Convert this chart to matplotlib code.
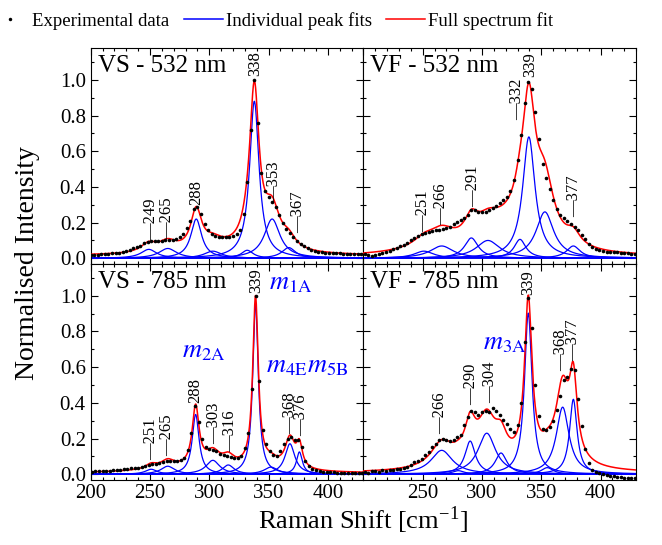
"""
Raman spectra of VS / VF at 532 and 785 nm with Lorentzian peak fits.
Writes out.png
"""
import matplotlib
matplotlib.use("Agg")
import matplotlib.pyplot as plt
import numpy as np
from matplotlib.lines import Line2D
from matplotlib.ticker import MultipleLocator

plt.rcParams["font.family"] = ["Liberation Serif", "DejaVu Serif"]
plt.rcParams["mathtext.fontset"] = "stix"

# ---------------- experimental spectra (sampled every 3 cm-1) ----------------
vs532_shift = np.arange(200, 429, 3)
vs532_int = [
    0.019, 0.020, 0.021, 0.022, 0.023, 0.025, 0.027, 0.029, 0.032, 0.036,
    0.041, 0.047, 0.055, 0.062, 0.071, 0.084, 0.092, 0.097, 0.095, 0.096,
    0.099, 0.101, 0.103, 0.105, 0.108, 0.117, 0.135, 0.168, 0.210, 0.275,
    0.288, 0.250, 0.192, 0.157, 0.138, 0.127, 0.122, 0.120, 0.120, 0.121,
    0.125, 0.135, 0.158, 0.250, 0.430, 0.720, 1.000, 0.760, 0.480, 0.375,
    0.345, 0.315, 0.285, 0.240, 0.197, 0.165, 0.142, 0.118, 0.099, 0.082,
    0.068, 0.055, 0.047, 0.042, 0.037, 0.034, 0.031, 0.030, 0.029, 0.028,
    0.027, 0.026, 0.025, 0.024, 0.023, 0.023, 0.022,
]

vs785_shift = np.arange(201, 430, 3)
vs785_int = [
    0.015, 0.016, 0.017, 0.018, 0.019, 0.020, 0.021, 0.023, 0.025, 0.027,
    0.030, 0.033, 0.035, 0.037, 0.042, 0.046, 0.050, 0.055, 0.060, 0.065,
    0.071, 0.077, 0.077, 0.074, 0.076, 0.079, 0.092, 0.135, 0.230, 0.385,
    0.290, 0.200, 0.155, 0.140, 0.134, 0.128, 0.115, 0.108, 0.102, 0.097,
    0.093, 0.092, 0.105, 0.145, 0.230, 0.480, 1.000, 0.520, 0.250, 0.170,
    0.128, 0.108, 0.102, 0.128, 0.172, 0.200, 0.208, 0.192, 0.190, 0.150,
    0.074, 0.047, 0.032, 0.022, 0.017, 0.014, 0.012, 0.011, 0.010, 0.009,
    0.008, 0.008, 0.008, 0.007, 0.007, 0.007, 0.007,
]

vf532_shift = np.arange(201, 430, 3)
vf532_int = [
    0.026, 0.016, 0.014, 0.019, 0.024, 0.030, 0.035, 0.042, 0.050, 0.059,
    0.068, 0.077, 0.088, 0.100, 0.112, 0.124, 0.136, 0.143, 0.147, 0.152,
    0.156, 0.160, 0.164, 0.168, 0.178, 0.190, 0.201, 0.212, 0.223, 0.242,
    0.270, 0.270, 0.260, 0.260, 0.262, 0.270, 0.279, 0.292, 0.307, 0.326,
    0.345, 0.378, 0.438, 0.550, 0.690, 0.870, 0.990, 0.950, 0.820, 0.670,
    0.530, 0.450, 0.390, 0.326, 0.275, 0.245, 0.225, 0.207, 0.193, 0.178,
    0.158, 0.132, 0.108, 0.080, 0.064, 0.053, 0.044, 0.040, 0.037, 0.037,
    0.036, 0.034, 0.031, 0.028, 0.027, 0.025, 0.024,
]

vf785_shift = np.arange(201, 430, 3)
vf785_int = [
    0.010, 0.009, 0.016, 0.018, 0.014, 0.021, 0.019, 0.024, 0.022, 0.031,
    0.029, 0.036, 0.043, 0.052, 0.066, 0.075, 0.087, 0.106, 0.124, 0.150,
    0.172, 0.192, 0.197, 0.190, 0.185, 0.193, 0.207, 0.222, 0.275, 0.318,
    0.353, 0.347, 0.333, 0.348, 0.357, 0.350, 0.370, 0.352, 0.333, 0.305,
    0.283, 0.255, 0.235, 0.275, 0.400, 0.740, 0.990, 0.820, 0.500, 0.325,
    0.255, 0.250, 0.262, 0.300, 0.360, 0.440, 0.530, 0.545, 0.590, 0.585,
    0.420, 0.270, 0.140, 0.065, 0.025, 0.015, 0.006, 0.000, -0.006, -0.010,
    -0.012, -0.015, -0.018, -0.020, -0.019, -0.022, -0.020,
]

# ---------------- Lorentzian fit parameters: centre, height, HWHM ----------------
vs532_pk_c = [249, 265, 289, 303, 332, 338, 353, 367]
vs532_pk_a = [0.05, 0.055, 0.22, 0.04, 0.045, 0.88, 0.22, 0.06]
vs532_pk_w = [8, 9, 5.5, 9, 6, 4.8, 8, 7]
vs532_bg_c, vs532_bg_a, vs532_bg_w, vs532_bg_off = [310], [0.03], [35], 0.015

vs785_pk_c = [251, 265, 288.5, 303, 316, 339, 352, 368, 376]
vs785_pk_a = [0.028, 0.045, 0.335, 0.078, 0.052, 0.955, 0.04, 0.171, 0.125]
vs785_pk_w = [6, 7, 3.5, 7, 6, 2.8, 7, 5, 3]
vs785_bg_c, vs785_bg_a, vs785_bg_w, vs785_bg_off = [300], [0.03], [55], 0.004

vf532_pk_c = [251, 266, 291, 305, 332, 339.5, 353, 377]
vf532_pk_a = [0.04, 0.069, 0.114, 0.10, 0.106, 0.68, 0.26, 0.069]
vf532_pk_w = [10, 12, 7, 12, 6, 6.3, 9, 7]
vf532_bg_c, vf532_bg_a, vf532_bg_w, vf532_bg_off = [322, 348, 265], [0.12, 0.10, 0.05], [22, 16, 30], 0.008

vf785_pk_c = [266, 280, 290, 304, 316, 339, 355, 368, 377]
vf785_pk_a = [0.134, 0.02, 0.186, 0.23, 0.119, 0.903, 0.037, 0.376, 0.42]
vf785_pk_w = [11, 6, 5.3, 9, 6, 3.8, 6, 6.5, 3.8]
vf785_bg_c, vf785_bg_a, vf785_bg_w, vf785_bg_off = [300, 365], [0.05, 0.07], [30, 18], 0.006

# ---------------- peak annotations ----------------
vs532_labels = ["249", "265", "288", "338", "353", "367"]
vs785_labels = ["251", "265", "288", "303", "316", "339", "368", "376"]
vf532_labels = ["251", "266", "291", "332", "339", "377"]
vf785_labels = ["266", "290", "304", "339", "368", "377"]

mode_labels_vs785 = ["1A", "2A", "4E", "5B"]
mode_labels_vf785 = ["3A"]

titles = ["VS - 532 nm", "VF - 532 nm", "VS - 785 nm", "VF - 785 nm"]

# label placement (x, y of lower end, with leader line)
vs532_lab_pos = [(250.7, 0.10, True), (264.8, 0.106, True), (288.8, 0.30, False),
                 (338.3, 1.02, False), (354.5, 0.31, True), (374.5, 0.14, True)]
vs785_lab_pos = [(250.7, 0.078, True), (264.8, 0.10, True), (288.5, 0.40, False),
                 (304.2, 0.17, True), (317.2, 0.127, True), (339.2, 1.015, False),
                 (368.3, 0.223, True), (377.5, 0.214, True)]
vf532_lab_pos = [(250.4, 0.149, True), (265.6, 0.186, True), (292.1, 0.289, True),
                 (329.8, 0.773, True), (340.2, 1.015, False), (377.8, 0.233, True)]
vf785_lab_pos = [(264.8, 0.223, True), (290.7, 0.39, True), (307.1, 0.40, True),
                 (339.1, 1.006, False), (366.8, 0.577, True), (377.0, 0.633, True)]
vs785_mode_pos = [(350.2, 1.035), (277.3, 0.655), (348.0, 0.57), (382.0, 0.57)]
vf785_mode_pos = [(300.6, 0.70)]

BLUE = "#0000ff"
RED = "#ff0000"


def lorentz(x, c, a, w):
    return a * w ** 2 / ((x - c) ** 2 + w ** 2)


def draw_panel(ax, shift, inten, pk_c, pk_a, pk_w, bg_c, bg_a, bg_w, bg_off,
               labels, lab_pos, title):
    xf = np.linspace(200, 430, 1200)
    total = np.full_like(xf, bg_off)
    for c, a, w in zip(bg_c, bg_a, bg_w):
        total += lorentz(xf, c, a, w)
    for c, a, w in zip(pk_c, pk_a, pk_w):
        comp = lorentz(xf, c, a, w)
        total += comp
        ax.plot(xf, comp, color=BLUE, lw=0.9, zorder=2)
    ax.plot(xf, total, color=RED, lw=1.1, zorder=3)
    ax.plot(shift, inten, "o", color="k", ms=2.6, mew=0, zorder=4)

    for txt, (x, y, lead) in zip(labels, lab_pos):
        s = "\u2014" + txt if lead else txt
        ax.text(x, y, s, rotation=90, ha="center", va="bottom",
                fontsize=12, zorder=5)

    ax.text(0.025, 0.965, title, transform=ax.transAxes, ha="left", va="top",
            fontsize=18)

    ax.set_xlim(200, 430)
    ax.set_ylim(-0.03, 1.18)
    ax.xaxis.set_major_locator(MultipleLocator(50))
    ax.xaxis.set_minor_locator(MultipleLocator(10))
    ax.yaxis.set_major_locator(MultipleLocator(0.2))
    ax.yaxis.set_minor_locator(MultipleLocator(0.1))
    ax.tick_params(which="both", direction="in", top=True, right=True,
                   labelsize=15, width=0.8)
    ax.tick_params(which="major", length=5)
    ax.tick_params(which="minor", length=2.5)
    for sp in ax.spines.values():
        sp.set_linewidth(0.8)


fig, axes = plt.subplots(2, 2, figsize=(6.62, 5.45), dpi=100)
fig.subplots_adjust(left=0.137, right=0.961, bottom=0.12, top=0.9125,
                    hspace=0, wspace=0)
ax_vs532, ax_vf532 = axes[0]
ax_vs785, ax_vf785 = axes[1]

draw_panel(ax_vs532, vs532_shift, vs532_int, vs532_pk_c, vs532_pk_a, vs532_pk_w,
           vs532_bg_c, vs532_bg_a, vs532_bg_w, vs532_bg_off,
           vs532_labels, vs532_lab_pos, titles[0])
draw_panel(ax_vf532, vf532_shift, vf532_int, vf532_pk_c, vf532_pk_a, vf532_pk_w,
           vf532_bg_c, vf532_bg_a, vf532_bg_w, vf532_bg_off,
           vf532_labels, vf532_lab_pos, titles[1])
draw_panel(ax_vs785, vs785_shift, vs785_int, vs785_pk_c, vs785_pk_a, vs785_pk_w,
           vs785_bg_c, vs785_bg_a, vs785_bg_w, vs785_bg_off,
           vs785_labels, vs785_lab_pos, titles[2])
draw_panel(ax_vf785, vf785_shift, vf785_int, vf785_pk_c, vf785_pk_a, vf785_pk_w,
           vf785_bg_c, vf785_bg_a, vf785_bg_w, vf785_bg_off,
           vf785_labels, vf785_lab_pos, titles[3])

# mode assignments
for m, (x, y) in zip(mode_labels_vs785, vs785_mode_pos):
    ax_vs785.text(x, y, r"$m_{\mathrm{%s}}$" % m, color=BLUE, fontsize=19,
                  ha="left", va="baseline", clip_on=False, zorder=6)
for m, (x, y) in zip(mode_labels_vf785, vf785_mode_pos):
    ax_vf785.text(x, y, r"$m_{\mathrm{%s}}$" % m, color=BLUE, fontsize=19,
                  ha="left", va="baseline", clip_on=False, zorder=6)

# tick labels only on outer edges
for ax in (ax_vs532, ax_vf532):
    ax.tick_params(labelbottom=False)
for ax in (ax_vf532, ax_vf785):
    ax.tick_params(labelleft=False)
ax_vf785.set_xticks([250, 300, 350, 400])

fig.text(0.042, 0.517, "Normalised Intensity", rotation=90, ha="center",
         va="center", fontsize=20)
fig.text(0.548, 0.046, r"Raman Shift [cm$^{\mathregular{-1}}$]", ha="center",
         va="center", fontsize=19)

handles = [
    Line2D([], [], marker="o", ls="none", color="k", ms=2.5, mew=0),
    Line2D([], [], color=BLUE, lw=1.1),
    Line2D([], [], color=RED, lw=1.1),
]
fig.legend(handles, ["Experimental data", "Individual peak fits", "Full spectrum fit"],
           loc="upper left", bbox_to_anchor=(-0.026, 0.992), ncol=3, frameon=False,
           fontsize=13.5, handlelength=2.1, handletextpad=0.15, columnspacing=0.75,
           borderaxespad=0)

fig.savefig("out.png", dpi=100)
